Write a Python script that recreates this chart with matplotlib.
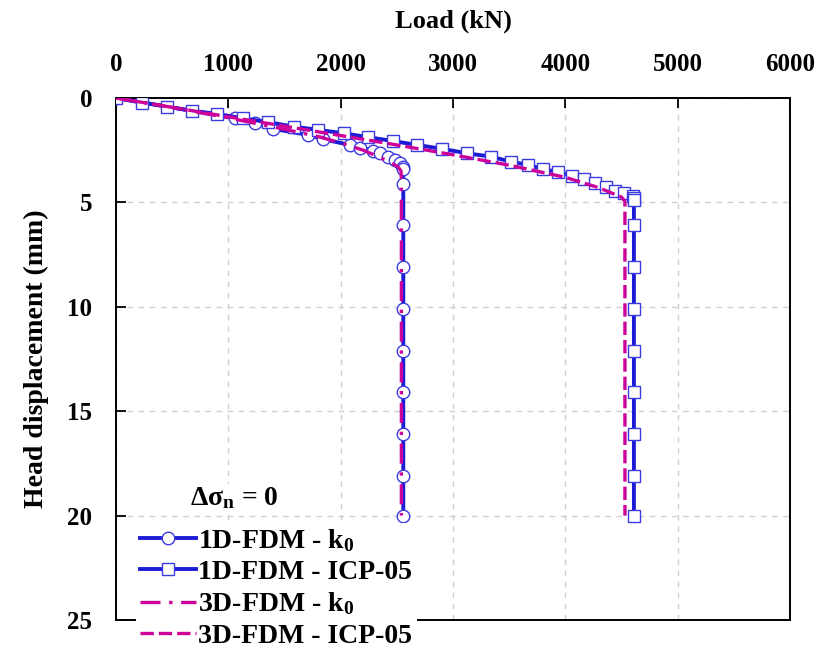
import matplotlib
matplotlib.use('Agg')
import matplotlib.pyplot as plt

# 字体设置: Times 风格粗体
plt.rcParams['font.family'] = ['Liberation Serif', 'DejaVu Serif']
plt.rcParams['font.weight'] = 'bold'
plt.rcParams['mathtext.fontset'] = 'custom'
plt.rcParams['mathtext.rm'] = 'Liberation Serif:bold'
plt.rcParams['mathtext.bf'] = 'Liberation Serif:bold'
plt.rcParams['mathtext.it'] = 'Liberation Serif:bold'

# 1D-FDM - k0 (圆点)
load_1d_k0 = [0, 1060, 1238, 1400, 1712, 1846, 2083, 2172, 2285, 2350, 2424, 2484,
              2528, 2552, 2557, 2557, 2557, 2557, 2557, 2557, 2557, 2557, 2557, 2557]
disp_1d_k0 = [0, 0.97, 1.18, 1.48, 1.77, 1.98, 2.25, 2.38, 2.52, 2.65, 2.81, 2.97,
              3.10, 3.29, 3.41, 4.1, 6.1, 8.1, 10.1, 12.1, 14.1, 16.1, 18.1, 20.0]

# 1D-FDM - ICP-05 (方块)
load_1d_icp = [0, 228, 450, 673, 896, 1128, 1355, 1580, 1802, 2025, 2247, 2463, 2682,
               2905, 3127, 3338, 3514, 3670, 3804, 3938, 4057, 4169, 4264, 4359, 4442,
               4522, 4605, 4608, 4610, 4610, 4610, 4610, 4610, 4610, 4610, 4610, 4610]
disp_1d_icp = [0, 0.22, 0.41, 0.61, 0.76, 0.97, 1.16, 1.37, 1.53, 1.69, 1.88, 2.06, 2.25,
               2.44, 2.65, 2.81, 3.05, 3.21, 3.40, 3.56, 3.72, 3.89, 4.09, 4.28, 4.44,
               4.57, 4.70, 4.80, 4.90, 6.1, 8.1, 10.1, 12.1, 14.1, 16.1, 18.1, 20.0]

# 3D-FDM - k0 (点划线)
load_3d_k0 = [0, 500, 1000, 1500, 1800, 2000, 2200, 2350, 2450, 2510, 2537, 2540, 2540]
disp_3d_k0 = [0, 0.45, 0.95, 1.50, 1.85, 2.15, 2.50, 2.85, 3.10, 3.30, 3.50, 3.9, 20.0]

# 3D-FDM - ICP-05 (虚线)
load_3d_icp = [0, 500, 1000, 1500, 2000, 2500, 3000, 3500, 4000, 4300, 4500, 4530, 4530]
disp_3d_icp = [0, 0.45, 0.90, 1.35, 1.80, 2.25, 2.72, 3.22, 3.80, 4.30, 4.75, 4.95, 20.0]

blue = '#1c1cd6'
edge = '#3b3be0'
magenta = '#cc0099'

fig = plt.figure(figsize=(8.2, 6.48), dpi=100)
ax = fig.add_axes([0.1415, 0.0432, 0.822, 0.8056])

ax.plot(load_1d_k0, disp_1d_k0, color=blue, lw=2.8, marker='o', ms=9,
        mfc='white', mec=edge, mew=1.0, label='1D-FDM - k$_\\mathbf{0}$', zorder=3)
ax.plot(load_1d_icp, disp_1d_icp, color=blue, lw=2.8, marker='s', ms=8,
        mfc='white', mec=edge, mew=1.0, label='1D-FDM - ICP-05', zorder=3)
ax.plot(load_3d_k0, disp_3d_k0, color=magenta, lw=2.4, dashes=(6, 2.6, 1, 2.6),
        label='3D-FDM - k$_\\mathbf{0}$', zorder=4)
ax.plot(load_3d_icp, disp_3d_icp, color=magenta, lw=2.4, dashes=(4, 1.5),
        label='3D-FDM - ICP-05', zorder=4)

ax.set_xlim(0, 6000)
ax.set_ylim(25, 0)
ax.set_xticks(range(0, 6001, 1000))
ax.set_yticks(range(0, 26, 5))
ax.xaxis.tick_top()
ax.xaxis.set_label_position('top')
ax.tick_params(axis='x', direction='in', length=7, width=1.3, pad=16, labelsize=18)
ax.tick_params(axis='y', direction='in', length=7, width=1.3, pad=17, labelsize=18)
ax.set_xlabel('Load (kN)', fontsize=19, fontweight='bold', labelpad=18)
ax.set_ylabel('Head displacement (mm)', fontsize=20, fontweight='bold', labelpad=13)

ax.grid(True, color='#d0d0d0', lw=1.0, dashes=(4, 4))
ax.set_axisbelow(True)
for s in ax.spines.values():
    s.set_linewidth(1.4)

# 图例标题 (白底)
ax.text(190 / 820, 1 - 498 / 648, 'Δσ$_\\mathbf{n}$ = 0', transform=fig.transFigure,
        fontsize=20, fontweight='bold', va='center', ha='left', zorder=6,
        bbox=dict(facecolor='white', edgecolor='none', pad=1))
leg = ax.legend(loc='upper left', bbox_to_anchor=(136 / 820, 1 - 523 / 648),
                bbox_transform=fig.transFigure, frameon=True, fontsize=20,
                handlelength=2.0, handletextpad=0.1, labelspacing=0.2,
                borderpad=0.15, borderaxespad=0, fancybox=False)
leg.get_frame().set_facecolor('white')
leg.get_frame().set_edgecolor('none')
leg.get_frame().set_alpha(1)

plt.savefig('out.png', dpi=100)
